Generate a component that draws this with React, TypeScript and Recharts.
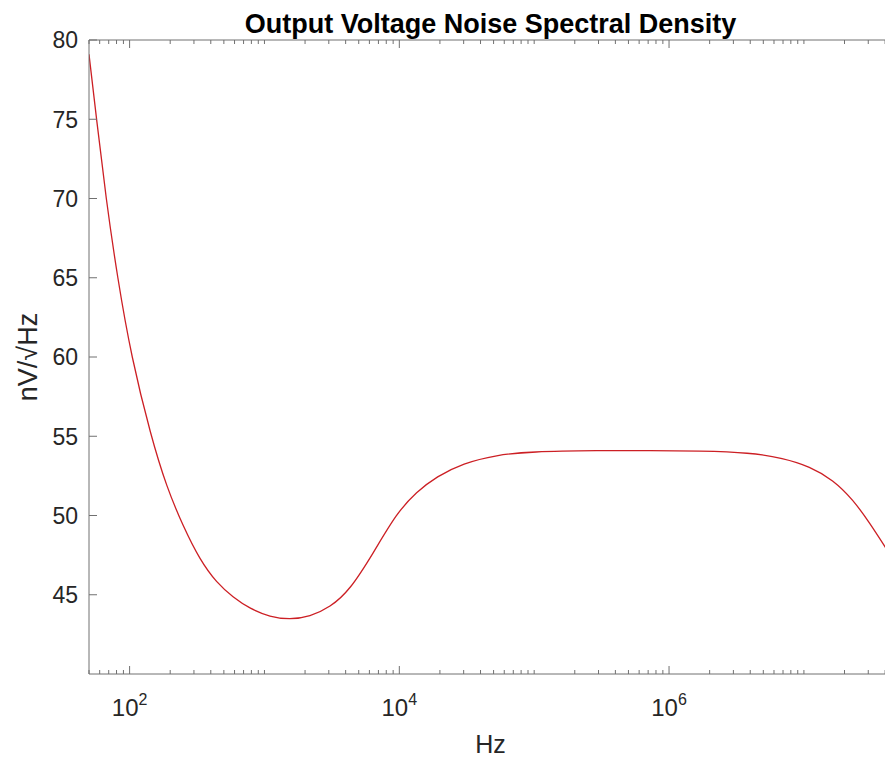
import { LineChart, Line, XAxis, YAxis } from 'recharts';

// frequency (Hz) and output noise (nV/√Hz)
const freqHz = [
	50, 56.9, 66.8, 81.3, 103, 144, 188, 250, 332, 442, 584, 780, 1100, 1545, 2175, 3060,
	4310, 6410, 9550, 13430, 18920, 29600, 52800, 92900, 307000, 720000, 1690000, 3970000,
	7020000, 11070000, 16450000, 23200000, 30800000, 39800000, 44900000,
];
const noiseNv = [
	79.1, 75.0, 70.0, 65.0, 60.0, 55.0, 51.8, 49.3, 47.2, 45.75, 44.85, 44.12, 43.6, 43.43,
	43.62, 44.2, 45.3, 47.63, 50.15, 51.5, 52.46, 53.3, 53.82, 54.03, 54.1, 54.1, 54.07,
	53.97, 53.62, 53.09, 52.25, 50.99, 49.52, 48.05, 47.35,
];

const yTicks = [45, 50, 55, 60, 65, 70, 75, 80];
const xLabelled = [100, 10000, 1000000];
const xTicks: number[] = [];
for (let e = 1; e <= 7; e++) {
	for (let m = 1; m <= 9; m++) {
		const v = m * Math.pow(10, e);
		if (v >= 50 && v <= 45000000) xTicks.push(v);
	}
}

const data = freqHz.map((f, i) => ({ f, v: noiseNv[i] }));

const FONT = '"Liberation Sans", Arial, sans-serif';
const AXIS = '#707070';
const TXT = '#262626';

const isMajor = (v: number) => xLabelled.some(m => Math.abs(v - m) / m < 1e-6);

const BottomTick = (props: any) => {
	const { x, y, payload } = props;
	const major = isMajor(payload.value);
	const exp = Math.round(Math.log10(payload.value));
	return (
		<g>
			<line x1={x} y1={y} x2={x} y2={y - (major ? 8 : 4)} stroke={AXIS} />
			{major && (
				<text x={x} y={y + 42} textAnchor='middle' fill={TXT} fontSize={24} fontFamily={FONT}>
					10
					<tspan dy={-11} fontSize={16}>
						{exp}
					</tspan>
				</text>
			)}
		</g>
	);
};

const TopTick = (props: any) => {
	const { x, y, payload } = props;
	const major = isMajor(payload.value);
	return <line x1={x} y1={y} x2={x} y2={y + (major ? 8 : 4)} stroke={AXIS} />;
};

const LeftTick = (props: any) => {
	const { x, y, payload } = props;
	return (
		<g>
			<line x1={x} y1={y} x2={x + 8} y2={y} stroke={AXIS} />
			<text x={x - 11} y={y} dy='0.36em' textAnchor='end' fill={TXT} fontSize={23} fontFamily={FONT}>
				{payload.value}
			</text>
		</g>
	);
};

const RightTick = (props: any) => {
	const { x, y } = props;
	return <line x1={x} y1={y} x2={x - 8} y2={y} stroke={AXIS} />;
};

const TitleLabel = (props: any) => {
	const { viewBox } = props;
	return (
		<text
			x={viewBox.x + viewBox.width / 2}
			y={33}
			textAnchor='middle'
			fill='#000'
			fontSize={27}
			fontWeight='bold'
			fontFamily={FONT}>
			Output Voltage Noise Spectral Density
		</text>
	);
};

const XLabel = (props: any) => {
	const { viewBox } = props;
	return (
		<text x={viewBox.x + viewBox.width / 2} y={753} textAnchor='middle' fill={TXT} fontSize={25} fontFamily={FONT}>
			Hz
		</text>
	);
};

const YLabel = (props: any) => {
	const { viewBox } = props;
	const cy = viewBox.y + viewBox.height / 2;
	return (
		<text
			x={27}
			y={cy}
			transform={`rotate(-90, 27, ${cy})`}
			textAnchor='middle'
			dy='0.36em'
			fill={TXT}
			fontSize={27}
			fontFamily={FONT}>
			nV/√Hz
		</text>
	);
};

export default function App() {
	return (
		<div style={{ position: 'absolute', left: 0, top: 0, width: 885, height: 758, overflow: 'hidden', background: '#fff' }}>
			<LineChart width={900} height={758} data={data} margin={{ top: 0, right: 0, bottom: 0, left: 0 }}>
				<XAxis
					dataKey='f'
					type='number'
					scale='log'
					domain={[50, 45000000]}
					allowDataOverflow
					ticks={xTicks}
					interval={0}
					tickLine={false}
					tickSize={0}
					tickMargin={0}
					tick={<BottomTick />}
					height={84}
					stroke={AXIS}
					label={<XLabel />}
				/>
				<XAxis
					xAxisId='top'
					orientation='top'
					dataKey='f'
					type='number'
					scale='log'
					domain={[50, 45000000]}
					allowDataOverflow
					ticks={xTicks}
					interval={0}
					tickLine={false}
					tickSize={0}
					tickMargin={0}
					tick={<TopTick />}
					height={40}
					stroke={AXIS}
					label={<TitleLabel />}
				/>
				<YAxis
					type='number'
					domain={[40, 80]}
					ticks={yTicks}
					interval={0}
					tickLine={false}
					tickSize={0}
					tickMargin={0}
					tick={<LeftTick />}
					width={89}
					stroke={AXIS}
					label={<YLabel />}
				/>
				<YAxis
					yAxisId='r'
					orientation='right'
					type='number'
					domain={[40, 80]}
					ticks={yTicks}
					interval={0}
					tickLine={false}
					tickSize={0}
					tickMargin={0}
					tick={<RightTick />}
					width={8}
					stroke={AXIS}
				/>
				<Line
					dataKey='v'
					type='basis'
					stroke='#cc1f24'
					strokeWidth={1.3}
					dot={false}
					isAnimationActive={false}
				/>
			</LineChart>
		</div>
	);
}
